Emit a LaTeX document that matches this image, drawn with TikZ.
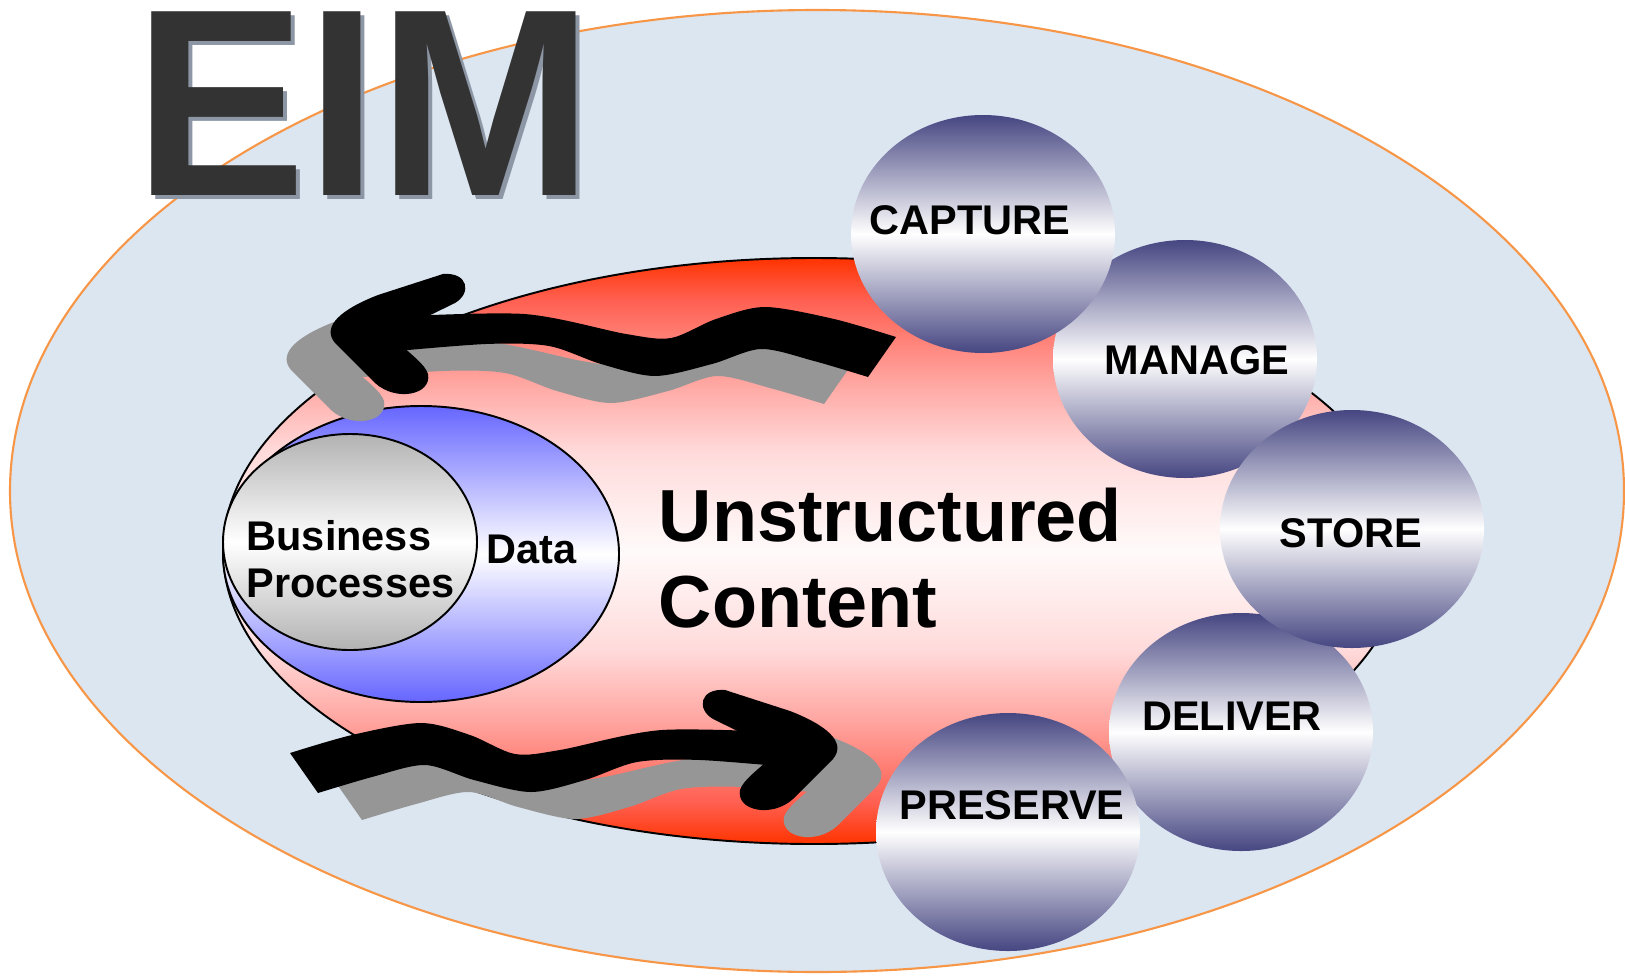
\documentclass[tikz,border=0pt]{standalone}
\usepackage{fontspec}
\setmainfont{Liberation Sans}
\usepackage{tikz}
\usetikzlibrary{shapes.geometric}

\definecolor{eimgray}{RGB}{51,51,51}
\definecolor{eimshadow}{RGB}{140,150,165}
\definecolor{skyfill}{RGB}{220,230,241}
\definecolor{skyline}{RGB}{247,150,70}
\definecolor{contentred}{RGB}{255,51,0}
\definecolor{contentmid}{RGB}{255,95,80}
\definecolor{contentpink}{RGB}{255,165,160}
\definecolor{contentpale}{RGB}{255,218,218}
\definecolor{contentwhite}{RGB}{255,250,250}
\definecolor{datablue}{RGB}{102,102,255}
\definecolor{procgray}{RGB}{178,178,178}
\definecolor{stageblue}{RGB}{70,70,130}
\definecolor{arrowshade}{RGB}{150,150,150}

\pgfdeclareverticalshading{contentshade}{100bp}{color(0bp)=(contentred); color(25bp)=(contentred);
  color(28.5bp)=(contentmid); color(35.5bp)=(contentpink); color(41.5bp)=(contentpale);
  color(50bp)=(contentwhite); color(58.5bp)=(contentpale); color(64.5bp)=(contentpink);
  color(71.5bp)=(contentmid); color(75bp)=(contentred); color(100bp)=(contentred)}

\newcommand{\flowarrow}[2]{%
  \fill[#1] plot[smooth] coordinates {(290,753) (352,735) (421,723) (470,735) (515,754) (560,750) (662,730) (800,733)}
    -- plot[smooth] coordinates {(800,768) (700,760) (637,762) (585,780) (531,792) (474,780) (425,765) (372,777) (318,793)} -- cycle;
  \begin{scope}[shift={(#2,0)}]
    \fill[#1] (713,719) .. controls (696,709) and (700,688) .. (725,690)
      -- (790,711) .. controls (826,725) and (847,742) .. (833,759)
      -- (793,799) .. controls (772,818) and (736,811) .. (740,790)
      .. controls (743,780) and (758,770) .. (770,758)
      -- (758,741) -- cycle;
  \end{scope}
}

\begin{document}
\begin{tikzpicture}[x=0.1mm, y=-0.1mm,
  stagecirc/.style={ellipse, minimum width=26.4mm, minimum height=23.8mm, inner sep=0pt,
    top color=stageblue, bottom color=stageblue, middle color=white},
  stagetxt/.style={font=\fontsize{11.8}{14}\selectfont\bfseries, inner sep=0pt},
  bigtxt/.style={font=\fontsize{21}{24}\selectfont\bfseries, inner sep=0pt, anchor=base west},
  titletxt/.style={font=\fontsize{76}{76}\selectfont\bfseries, inner sep=0pt, anchor=base, xscale=0.965}]
  \useasboundingbox (0,0) rectangle (1625,975);

  \node[ellipse, draw=skyline, line width=0.6pt, fill=skyfill, inner sep=0pt,
    minimum width=161.4mm, minimum height=96.2mm] (eim-area) at (817,491) {};
  \node[titletxt, text=eimshadow] at (368,199) {EIM};
  \node[titletxt, text=eimgray] (eim) at (364,195) {EIM};

  \node[ellipse, draw, line width=0.55pt, inner sep=0pt, minimum width=118.2mm, minimum height=58.6mm,
    shading=contentshade] (content) at (814,551) {};
  \node[ellipse, draw, line width=0.55pt, inner sep=0pt, minimum width=39.6mm, minimum height=29.6mm,
    top color=datablue, bottom color=datablue, middle color=white] (data) at (421,554) {};
  \node[ellipse, draw, line width=0.55pt, inner sep=0pt, minimum width=25.4mm, minimum height=21.6mm,
    top color=procgray, bottom color=procgray, middle color=white] (process) at (350,542) {};

  \node[stagetxt, anchor=base west] (process-1) at (246,550) {Business};
  \node[stagetxt, anchor=base west] (process-2) at (246,597) {Processes};
  \node[stagetxt, anchor=base west] (data-t) at (486,563) {Data};
  \node[bigtxt] (content-1) at (658,541) {Unstructured};
  \node[bigtxt] (content-2) at (658,627) {Content};

  % lower arrow, then the upper one mirrored
  \begin{scope}[shift={(44,27)}]
    \flowarrow{arrowshade}{0}
  \end{scope}
  \flowarrow{black}{0}
  \begin{scope}[shift={(1186,-416)}, xscale=-1]
    \begin{scope}[shift={(44,27)}]
      \flowarrow{arrowshade}{18}
    \end{scope}
    \flowarrow{black}{18}
  \end{scope}

  \node[stagecirc] (manage) at (1185,359) {};
  \node[stagecirc] (deliver) at (1241,732) {};
  \node[stagecirc] (capture) at (983,234) {};
  \node[stagecirc] (store) at (1352,529) {};
  \node[stagecirc] (preserve) at (1008,832) {};

  \node[stagetxt] (capture-t) at (970,220) {CAPTURE};
  \node[stagetxt] (manage-t) at (1197,360) {MANAGE};
  \node[stagetxt] (store-t) at (1351,533) {STORE};
  \node[stagetxt] (deliver-t) at (1232,716) {DELIVER};
  \node[stagetxt] (preserve-t) at (1012,805) {PRESERVE};
\end{tikzpicture}
\end{document}
